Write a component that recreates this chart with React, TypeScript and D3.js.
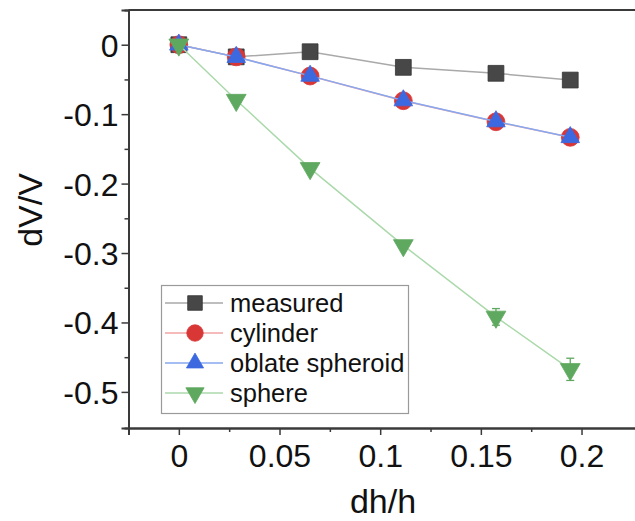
import { useEffect, useRef } from 'react';
import * as d3 from 'd3';

// data
const dh = [0, 0.0285, 0.0652, 0.1115, 0.1575, 0.1944];
const measured = [0, -0.0175, -0.0101, -0.0326, -0.0412, -0.0509];
const cylinder = [0, -0.0175, -0.0451, -0.0807, -0.111, -0.1334];
const oblate = [0, -0.0178, -0.0449, -0.0803, -0.1105, -0.1333];
const sphere = [0, -0.0797, -0.178, -0.289, -0.392, -0.4675];
const sphereErr = [0, 0, 0, 0.002, 0.012, 0.016];

const xTicks = [0, 0.05, 0.1, 0.15, 0.2];
const xMinor = [-0.025, 0.025, 0.075, 0.125, 0.175];
const yTicks = [0, -0.1, -0.2, -0.3, -0.4, -0.5];
const yMinor = [-0.05, -0.15, -0.25, -0.35, -0.45];

const W = 635;
const H = 521;

const series = [
  { name: 'measured', values: measured, line: '#a9a9a9', fill: '#474747', stroke: '#333', shape: d3.symbolSquare, size: 250, rot: 0 },
  { name: 'cylinder', values: cylinder, line: '#f2a3a3', fill: '#d93636', stroke: '#d93636', shape: d3.symbolCircle, size: 250, rot: 0 },
  { name: 'oblate spheroid', values: oblate, line: '#86a8f0', fill: '#3d69e0', stroke: '#3d69e0', shape: d3.symbolTriangle, size: 150, rot: 0 },
  { name: 'sphere', values: sphere, line: '#abd9ab', fill: '#5fa85f', stroke: '#5fa85f', shape: d3.symbolTriangle, size: 170, rot: 180 },
];

const fmt = (d: any) => String(d);

const App = () => {
  const ref = useRef<SVGSVGElement>(null);

  useEffect(() => {
    const svg = d3.select(ref.current);
    svg.selectAll('*').remove();

    const x = d3.scaleLinear().domain([-0.025, 0.235]).range([128.5, 652]);
    const y = d3.scaleLinear().domain([-0.552, 0.05]).range([428, 10]);
    const font = 'Arial, "Liberation Sans", sans-serif';

    // frame (top line + axes)
    svg.append('line').attr('x1', 128.5).attr('x2', 640).attr('y1', 10).attr('y2', 10)
      .attr('stroke', '#3a3a3a').attr('stroke-width', 2);

    const xAxis = svg.append('g').attr('transform', 'translate(0,428)');
    xAxis.call(d3.axisBottom(x).tickValues(xTicks).tickSize(7).tickPadding(9).tickFormat(fmt) as any);
    const xMin = svg.append('g').attr('transform', 'translate(0,428)');
    xMin.call(d3.axisBottom(x).tickValues(xMinor).tickSize(4).tickFormat(() => '') as any);

    const yAxis = svg.append('g').attr('transform', 'translate(128.5,0)');
    yAxis.call(d3.axisLeft(y).tickValues(yTicks).tickSize(7).tickPadding(3).tickFormat(fmt) as any);
    const yMin = svg.append('g').attr('transform', 'translate(128.5,0)');
    yMin.call(d3.axisLeft(y).tickValues(yMinor).tickSize(4).tickFormat(() => '') as any);

    [xAxis, xMin, yAxis, yMin].forEach((g) => {
      g.select('.domain').attr('stroke', '#3a3a3a').attr('stroke-width', 2);
      g.selectAll('.tick line').attr('stroke', '#3a3a3a').attr('stroke-width', 1.5);
      g.selectAll('.tick text').attr('fill', '#111').style('font-family', font).style('font-size', '32px');
    });
    xAxis.selectAll('.tick text').attr('dy', '0.71em');
    yAxis.selectAll('.tick text').attr('dy', '0.36em');

    // titles
    svg.append('text').attr('x', 383).attr('y', 513).attr('text-anchor', 'middle')
      .style('font-family', font).style('font-size', '34px').attr('fill', '#111').text('dh/h');
    svg.append('text').attr('transform', 'translate(42,210) rotate(-90)').attr('text-anchor', 'middle')
      .style('font-family', font).style('font-size', '34px').attr('fill', '#111').text('dV/V');

    const line = d3.line<number>().x((_, i) => x(dh[i])).y((d) => y(d));

    series.forEach((s) => {
      svg.append('path').datum(s.values).attr('d', line).attr('fill', 'none')
        .attr('stroke', s.line).attr('stroke-width', 1.5);
      if (s.name === 'sphere') {
        const eb = svg.append('g').attr('stroke', s.fill).attr('stroke-width', 1.3);
        s.values.forEach((v, i) => {
          const e = sphereErr[i];
          if (!e) return;
          const cx = x(dh[i]);
          eb.append('line').attr('x1', cx).attr('x2', cx).attr('y1', y(v + e)).attr('y2', y(v - e));
          eb.append('line').attr('x1', cx - 4).attr('x2', cx + 4).attr('y1', y(v + e)).attr('y2', y(v + e));
          eb.append('line').attr('x1', cx - 4).attr('x2', cx + 4).attr('y1', y(v - e)).attr('y2', y(v - e));
        });
      }
      const sym = d3.symbol().type(s.shape).size(s.size);
      svg.append('g').selectAll('path').data(s.values).join('path')
        .attr('d', sym() as string)
        .attr('transform', (d, i) => `translate(${x(dh[i])},${y(d)}) rotate(${s.rot})`)
        .attr('fill', s.fill).attr('stroke', s.stroke).attr('stroke-width', 0.8);
    });

    // legend
    const lg = svg.append('g');
    lg.append('rect').attr('x', 161.5).attr('y', 285.5).attr('width', 247).attr('height', 128)
      .attr('fill', 'white').attr('stroke', '#9a9a9a').attr('stroke-width', 1.2);
    series.forEach((s, i) => {
      const cy = 303 + i * 30;
      lg.append('line').attr('x1', 165).attr('x2', 223).attr('y1', cy).attr('y2', cy)
        .attr('stroke', s.line).attr('stroke-width', 1.5);
      const sym = d3.symbol().type(s.shape).size(s.size * 0.85);
      lg.append('path').attr('d', sym() as string)
        .attr('transform', `translate(195,${cy}) rotate(${s.rot})`)
        .attr('fill', s.fill).attr('stroke', s.stroke).attr('stroke-width', 0.8);
      lg.append('text').attr('x', 230).attr('y', cy).attr('dy', '0.35em')
        .style('font-family', font).style('font-size', '25.5px').attr('fill', '#111').text(s.name);
    });
  }, []);

  return (
    <svg ref={ref} width={W} height={H} style={{ position: 'absolute', left: 0, top: 0, background: 'white' }} />
  );
};

export default App;
